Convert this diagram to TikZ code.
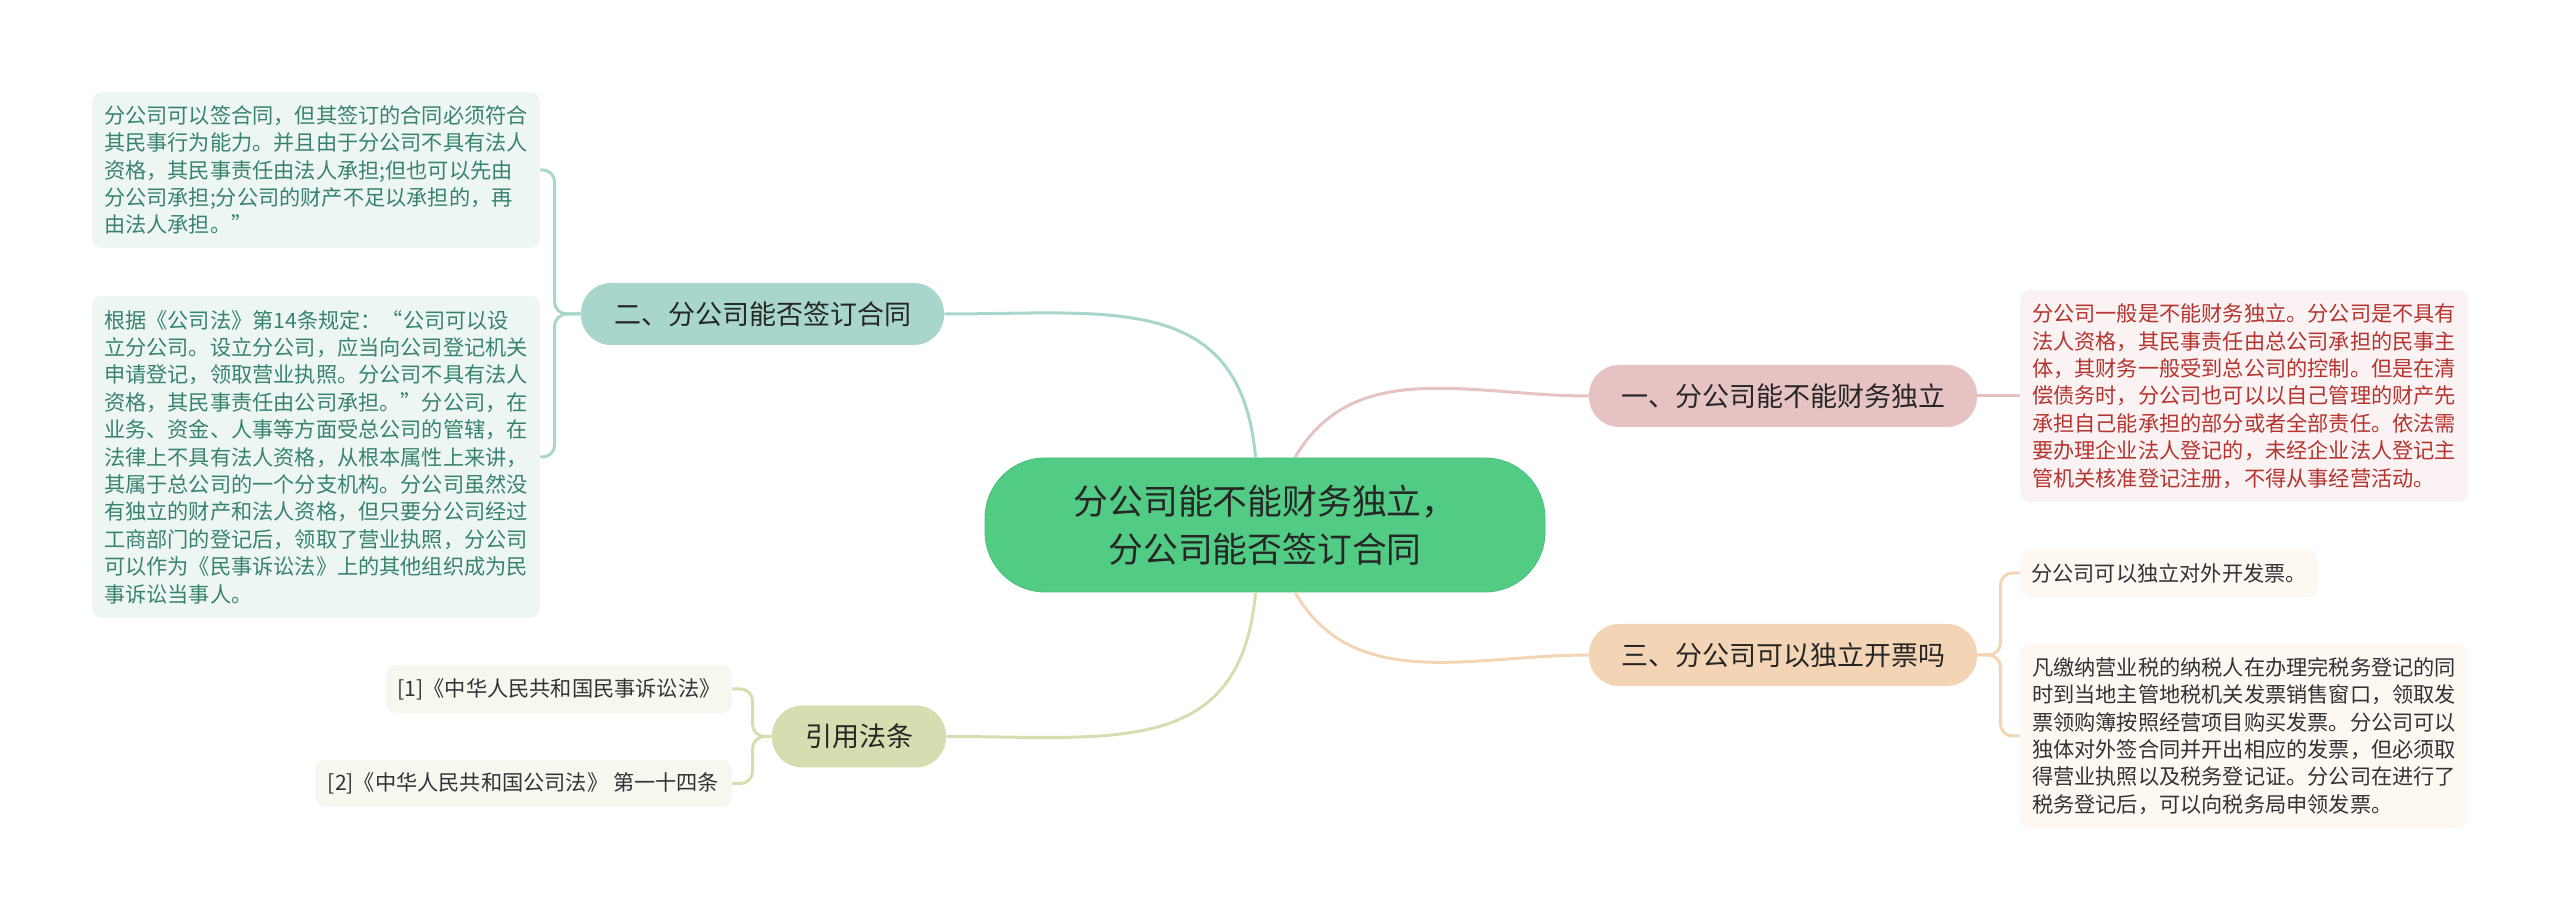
\documentclass[tikz,border=0pt]{standalone}
\usepackage{fontspec}
\setmainfont{Noto Sans CJK SC}
\usepackage{xcolor}
\usepackage{tikz}
\usetikzlibrary{shapes,positioning}
\definecolor{hubfill}{HTML}{52CC84}
\definecolor{hubedge}{HTML}{48BF78}
\definecolor{tealfill}{HTML}{A9D6CC}
\definecolor{pinkfill}{HTML}{E6C3C2}
\definecolor{orangefill}{HTML}{F3D5B5}
\definecolor{olivefill}{HTML}{D7DDB1}
\definecolor{tealleaf}{HTML}{EEF6F3}
\definecolor{pinkleaf}{HTML}{FBF3F3}
\definecolor{orangeleaf}{HTML}{FDF8F1}
\definecolor{oliveleaf}{HTML}{F6F7EF}
\definecolor{tealtext}{HTML}{37836F}
\definecolor{redtext}{HTML}{B5342F}
\tikzset{hub/.style={rectangle,rounded corners=30pt,fill=hubfill,draw=hubedge,minimum width=280pt,minimum height=67pt,align=center,text=black!85,font=\fontsize{17.4pt}{24pt}\selectfont}}
\tikzset{sub/.style={rectangle,rounded corners=15pt,minimum height=31pt,inner xsep=0pt,text=black!85,font=\fontsize{13.5pt}{16pt}\selectfont}}
\tikzset{leaf/.style={rectangle,rounded corners=5pt,align=left,inner xsep=5.5pt,inner ysep=0pt,text=black!80,font=\fontsize{10.6pt}{13.7pt}\selectfont}}
\tikzset{wire/.style={line width=1.5pt}}

\begin{document}
\begin{tikzpicture}[x=0.5pt,y=0.5pt]
    \useasboundingbox (0,0) rectangle (2560,921);

    \node[hub] (c) at (1265,396) {分公司能不能财务独立，\\分公司能否签订合同};
    \node[sub,fill=tealfill,minimum width=181.5pt] (b) at (762.5,607) {二、分公司能否签订合同};
    \node[sub,fill=pinkfill,minimum width=194pt] (a) at (1783,525) {一、分公司能不能财务独立};
    \node[sub,fill=orangefill,minimum width=194pt] (d) at (1783,266) {三、分公司可以独立开票吗};
    \node[sub,fill=olivefill,minimum width=87pt] (e) at (859,184.5) {引用法条};

    \node[leaf,fill=tealleaf,text=tealtext,minimum width=224pt,minimum height=78pt] (f) at (316,751) {分公司可以签合同，但其签订的合同必须符合\\其民事行为能力。并且由于分公司不具有法人\\资格，其民事责任由法人承担;但也可以先由\\分公司承担;分公司的财产不足以承担的，再\\由法人承担。”};
    \node[leaf,fill=tealleaf,text=tealtext,minimum width=224pt,minimum height=161pt] (g) at (316,464) {根据《公司法》第14条规定：“公司可以设\\立分公司。设立分公司，应当向公司登记机关\\申请登记，领取营业执照。分公司不具有法人\\资格，其民事责任由公司承担。”分公司，在\\业务、资金、人事等方面受总公司的管辖，在\\法律上不具有法人资格，从根本属性上来讲，\\其属于总公司的一个分支机构。分公司虽然没\\有独立的财产和法人资格，但只要分公司经过\\工商部门的登记后，领取了营业执照，分公司\\可以作为《民事诉讼法》上的其他组织成为民\\事诉讼当事人。};
    \node[leaf,fill=pinkleaf,text=redtext,minimum width=224pt,minimum height=106pt] (h) at (2244,525) {分公司一般是不能财务独立。分公司是不具有\\法人资格，其民事责任由总公司承担的民事主\\体，其财务一般受到总公司的控制。但是在清\\偿债务时，分公司也可以以自己管理的财产先\\承担自己能承担的部分或者全部责任。依法需\\要办理企业法人登记的，未经企业法人登记主\\管机关核准登记注册，不得从事经营活动。};
    \node[leaf,fill=orangeleaf,minimum width=149pt,minimum height=24pt] (i) at (2169,348) {分公司可以独立对外开发票。};
    \node[leaf,fill=orangeleaf,minimum width=224pt,minimum height=92pt] (j) at (2244,185) {凡缴纳营业税的纳税人在办理完税务登记的同\\时到当地主管地税机关发票销售窗口，领取发\\票领购簿按照经营项目购买发票。分公司可以\\独体对外签合同并开出相应的发票，但必须取\\得营业执照以及税务登记证。分公司在进行了\\税务登记后，可以向税务局申领发票。};
    \node[leaf,fill=oliveleaf,minimum width=173pt,minimum height=24pt] (k) at (559,232) {[1]《中华人民共和国民事诉讼法》};
    \node[leaf,fill=oliveleaf,minimum width=208.5pt,minimum height=23.5pt] (l) at (523.5,137.5) {[2]《中华人民共和国公司法》 第一十四条};

    \draw [wire,draw=tealfill] (c.98) to [out=95,in=0,looseness=1.25] (b.east);
    \draw [wire,draw=pinkfill] (c.66) to [out=60,in=180] (a.west);
    \draw [wire,draw=orangefill] (c.-66) to [out=-60,in=180] (d.west);
    \draw [wire,draw=olivefill] (c.-98) to [out=-95,in=0,looseness=1.25] (e.east);

    \draw [wire,draw=tealfill,rounded corners=6pt] (b.west) -- ++(-26,0) |- (f.east);
    \draw [wire,draw=tealfill,rounded corners=6pt] (b.west) -- ++(-26,0) |- (g.east);
    \draw [wire,draw=pinkfill] (a.east) -- (h.west);
    \draw [wire,draw=orangefill,rounded corners=6pt] (d.east) -- ++(23,0) |- (i.west);
    \draw [wire,draw=orangefill,rounded corners=6pt] (d.east) -- ++(23,0) |- (j.west);
    \draw [wire,draw=olivefill,rounded corners=6pt] (e.west) -- ++(-19,0) |- (k.east);
    \draw [wire,draw=olivefill,rounded corners=6pt] (e.west) -- ++(-19,0) |- (l.east);
\end{tikzpicture}
\end{document}
